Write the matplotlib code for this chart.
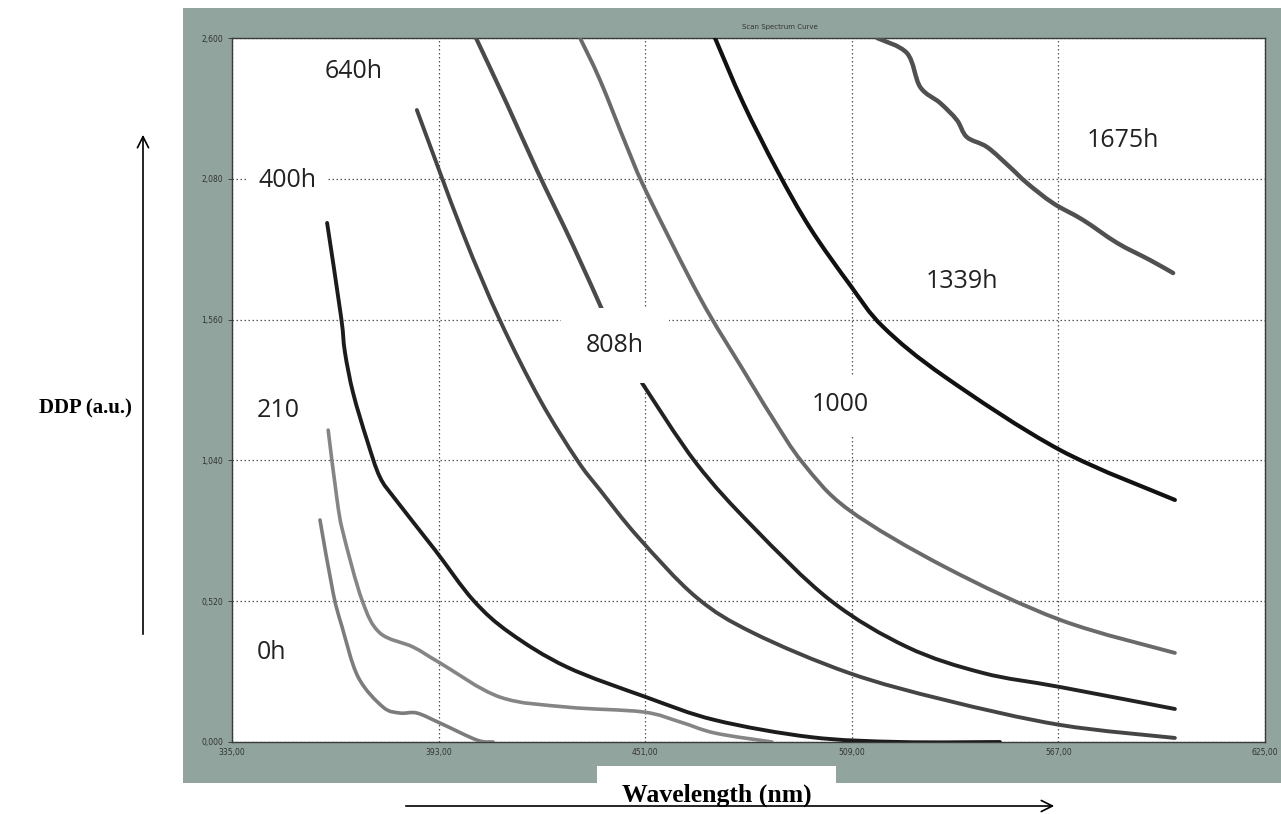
import matplotlib
matplotlib.use("Agg")
import matplotlib.pyplot as plt
from matplotlib.patches import Rectangle, PathPatch
from matplotlib.path import Path

# ---------------- data: wavelength (nm) / DDP (a.u.) ----------------
wl_0h = [359.7, 363.4, 365.9, 370.4, 377.4, 382.2, 386.9, 393.4, 403.8, 408.3]
ddp_0h = [0.820, 0.550, 0.425, 0.240, 0.129, 0.107, 0.107, 0.070, 0.007, 0.0]

wl_210 = [362.0, 364.5, 366.2, 371.5, 376.5, 385.8, 393.4, 410.2, 429.0, 450.4, 460.8, 470.6, 486.6]
ddp_210 = [1.152, 0.894, 0.772, 0.524, 0.403, 0.351, 0.292, 0.166, 0.129, 0.111, 0.074, 0.033, 0.0]

wl_400 = [361.7, 365.6, 366.7, 369.0, 372.9, 376.5, 381.0, 392.0, 402.7, 413.0, 429.0, 451.2,
          470.6, 497.5, 522.5, 550.6]
ddp_400 = [1.917, 1.572, 1.440, 1.289, 1.115, 0.979, 0.894, 0.709, 0.524, 0.403, 0.277, 0.166,
           0.081, 0.018, 0.0, 0.0]

wl_640 = [386.9, 399.8, 410.2, 421.5, 431.9, 438.3, 449.0, 465.3, 481.3, 508.2, 535.2, 567.5, 599.7]
ddp_640 = [2.334, 1.880, 1.558, 1.263, 1.041, 0.931, 0.757, 0.535, 0.403, 0.255, 0.155, 0.063, 0.015]

wl_808_top = [403.5, 412.2, 420.6, 430.7, 439.2]
ddp_808_top = [2.600, 2.356, 2.112, 1.835, 1.588]
wl_808_low = [450.1, 465.3, 481.3, 502.9, 524.5, 545.8, 567.5, 599.7]
ddp_808_low = [1.326, 1.030, 0.794, 0.524, 0.351, 0.255, 0.203, 0.122]

wl_1000 = [432.7, 438.3, 445.9, 451.5, 466.4, 478.5, 486.6, 495.3, 508.2, 535.2, 567.5, 599.7]
ddp_1000 = [2.600, 2.445, 2.197, 2.027, 1.640, 1.374, 1.200, 1.030, 0.857, 0.646, 0.451, 0.329]

wl_1339 = [470.6, 478.5, 488.0, 497.3, 508.5, 517.8, 535.2, 567.5, 599.7]
ddp_1339 = [2.600, 2.360, 2.112, 1.898, 1.688, 1.533, 1.348, 1.078, 0.894]

wl_1675 = [516.1, 524.5, 528.2, 533.8, 538.5, 541.3, 547.0, 553.4, 558.2, 565.5, 573.9, 583.5,
           592.7, 599.2]
ddp_1675 = [2.600, 2.544, 2.419, 2.360, 2.297, 2.234, 2.197, 2.123, 2.064, 1.990, 1.928, 1.843,
            1.780, 1.732]

labels = ["0h", "210", "400h", "640h", "808h", "1000", "1339h", "1675h"]
label_x = [346.2, 347.9, 350.7, 369.2, 442.5, 505.7, 539.9, 585.1]
label_y = [0.332, 1.226, 2.072, 2.478, 1.466, 1.245, 1.699, 2.223]

xticks = [335, 393, 451, 509, 567, 625]
xtick_labels = ["335,00", "393,00", "451,00", "509,00", "567,00", "625,00"]
yticks = [0.0, 0.52, 1.04, 1.56, 2.08, 2.6]
ytick_labels = ["0,000", "0,520", "1,040", "1,560", "2,080", "2,600"]


def smooth_line(ax, xs, ys, color, lw):
    # draw a smooth (Catmull-Rom -> Bezier) stroke through the read points
    pts = list(zip(xs, ys))
    verts = [pts[0]]
    codes = [Path.MOVETO]
    n = len(pts)
    for i in range(n - 1):
        p0 = pts[i - 1] if i > 0 else pts[i]
        p1 = pts[i]
        p2 = pts[i + 1]
        p3 = pts[i + 2] if i + 2 < n else pts[i + 1]
        c1 = (p1[0] + (p2[0] - p0[0]) / 6, p1[1] + (p2[1] - p0[1]) / 6)
        c2 = (p2[0] - (p3[0] - p1[0]) / 6, p2[1] - (p3[1] - p1[1]) / 6)
        verts += [c1, c2, p2]
        codes += [Path.CURVE4] * 3
    ax.add_patch(PathPatch(Path(verts, codes), facecolor="none", edgecolor=color, lw=lw,
                           capstyle="round", joinstyle="round", zorder=3))


# ---------------- figure ----------------
W, H = 1281, 814
fig = plt.figure(figsize=(W / 100, H / 100), dpi=100)
fig.patch.set_facecolor("white")

panel = "#91a49d"
fig.patches.append(Rectangle((183 / W, 1 - 783 / H), (W - 183) / W, (783 - 8) / H,
                             transform=fig.transFigure, facecolor=panel, edgecolor="none", zorder=0))
# white notch under the plot where the x title sits
fig.patches.append(Rectangle((597 / W, 1 - 784 / H), (836 - 597) / W, (784 - 766) / H,
                             transform=fig.transFigure, facecolor="white", edgecolor="none", zorder=1))

ax = fig.add_axes([232 / W, 1 - 742 / H, (1265 - 232) / W, (742 - 38) / H])
ax.set_zorder(5)
ax.set_facecolor("white")
ax.set_xlim(335, 625)
ax.set_ylim(0, 2.6)

ax.set_xticks(xticks)
ax.set_xticklabels(xtick_labels)
ax.set_yticks(yticks)
ax.set_yticklabels(ytick_labels)
ax.tick_params(axis="both", labelsize=5.5, colors="#333333", length=3, width=0.6)
ax.tick_params(axis="x", length=0, pad=4)
for s in ax.spines.values():
    s.set_color("#3a3a3a")
    s.set_linewidth(1.0)

ax.grid(True, color="#555555", linestyle=(0, (1.2, 2.0)), linewidth=0.9)
ax.set_axisbelow(True)

# ---------------- curves ----------------
smooth_line(ax, wl_0h, ddp_0h, "#7c7c7c", 2.6)
smooth_line(ax, wl_210, ddp_210, "#858585", 2.6)
smooth_line(ax, wl_400, ddp_400, "#1c1c1c", 2.8)
smooth_line(ax, wl_640, ddp_640, "#454545", 2.8)
smooth_line(ax, wl_808_top, ddp_808_top, "#4a4a4a", 3.0)
smooth_line(ax, wl_808_low, ddp_808_low, "#222222", 2.8)
smooth_line(ax, wl_1000, ddp_1000, "#6a6a6a", 2.8)
smooth_line(ax, wl_1339, ddp_1339, "#111111", 3.0)
smooth_line(ax, wl_1675, ddp_1675, "#505050", 3.2)

for t, lx, ly in zip(labels, label_x, label_y):
    pad = {"808h": 1.0, "1000": 0.7}.get(t, 0.45)
    ax.text(lx, ly, t, fontsize=18, family="Open Sans", color="#222222",
            ha="center", va="center", zorder=4,
            bbox=dict(boxstyle=f"square,pad={pad}", facecolor="white", edgecolor="none"))

# small window title
fig.text(780 / W, 1 - 27 / H, "Scan Spectrum Curve", fontsize=5, color="#333333",
         ha="center", va="center")

# axis titles with hand-drawn arrows
fig.text(717 / W, 1 - 795 / H, "Wavelength (nm)", fontsize=18.5, fontweight="bold",
         family="Liberation Serif", ha="center", va="center", zorder=5)
fig.text(85 / W, 1 - 408 / H, "DDP (a.u.)", fontsize=15, fontweight="bold",
         family="Liberation Serif", ha="center", va="center")

fig.add_artist(plt.Annotation("", xy=(1057, H - 806), xytext=(403, H - 806),
                              xycoords="figure pixels", textcoords="figure pixels",
                              arrowprops=dict(arrowstyle="->", lw=1.2, color="black",
                                              mutation_scale=20)))
fig.add_artist(plt.Annotation("", xy=(143, H - 132), xytext=(143, H - 637),
                              xycoords="figure pixels", textcoords="figure pixels",
                              arrowprops=dict(arrowstyle="->", lw=1.2, color="black",
                                              mutation_scale=20)))

fig.savefig("out.png", dpi=100)
